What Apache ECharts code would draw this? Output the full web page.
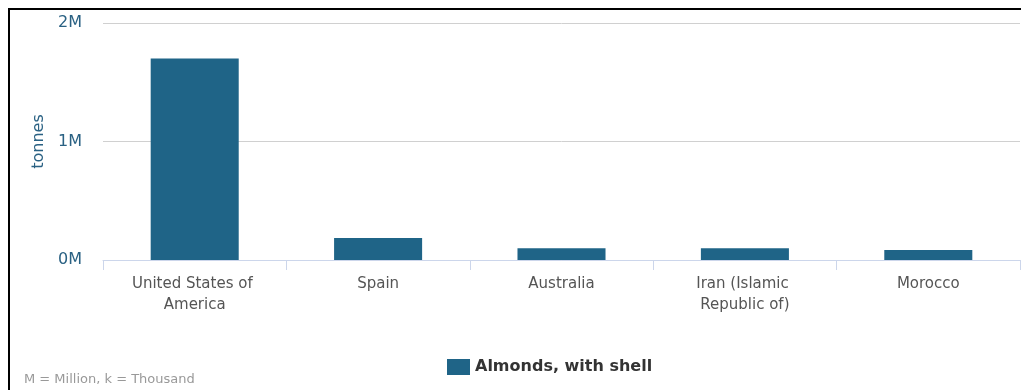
<!DOCTYPE html>
<html>
<head>
<meta charset="utf-8">
<script src="https://cdn.jsdelivr.net/npm/echarts@6/dist/echarts.min.js"></script>
<style>
  html, body { margin: 0; padding: 0; background: #fff; }
  #chart { width: 1021px; height: 390px; }
</style>
</head>
<body>
<div id="chart"></div>
<script>
// Almond production by country (tonnes)
const countries = ['United States of America', 'Spain', 'Australia', 'Iran (Islamic Republic of)', 'Morocco'];
const almondsWithShell = [1700000, 186000, 100000, 100000, 85000];
const seriesName = 'Almonds, with shell';
const yTicks = [0, 1000000, 2000000];

const FONT = '"DejaVu Sans", "Open Sans", sans-serif';
const BAR = '#1f6487';

const chart = echarts.init(document.getElementById('chart'), null, { renderer: 'canvas' });
chart.setOption({
  animation: false,
  textStyle: { fontFamily: FONT },
  grid: { left: 103, right: 1, top: 23, bottom: 130, containLabel: false },
  legend: {
    data: [seriesName],
    left: 442,
    top: 354,
    itemWidth: 23,
    itemHeight: 16,
    itemGap: 8,
    icon: 'rect',
    textStyle: { fontFamily: FONT, fontSize: 16, fontWeight: 'bold', color: '#333' }
  },
  xAxis: {
    type: 'category',
    data: countries,
    axisLine: { lineStyle: { color: '#ccd6eb', width: 1 } },
    axisTick: { show: true, length: 10, lineStyle: { color: '#ccd6eb' }, alignWithLabel: false },
    axisLabel: {
      color: '#555',
      fontSize: 15,
      fontFamily: FONT,
      margin: 14,
      lineHeight: 21,
      width: 150,
      overflow: 'break',
      interval: 0
    }
  },
  yAxis: {
    type: 'value',
    min: yTicks[0],
    max: yTicks[yTicks.length - 1],
    interval: yTicks[1] - yTicks[0],
    name: 'tonnes',
    nameLocation: 'middle',
    nameGap: 55,
    nameRotate: 90,
    nameTextStyle: { color: '#2a6183', fontSize: 16, fontFamily: FONT },
    axisLine: { show: false },
    axisTick: { show: false },
    splitLine: { lineStyle: { color: '#d0d0d0', width: 1 } },
    axisLabel: {
      color: '#2a6183',
      fontSize: 16,
      fontFamily: FONT,
      margin: 21,
      formatter: v => (v / 1000000) + 'M'
    }
  },
  series: [{
    name: seriesName,
    type: 'bar',
    data: almondsWithShell,
    barWidth: '48%',
    itemStyle: { color: BAR }
  }],
  graphic: [
    {
      type: 'rect',
      shape: { x: 9, y: 9, width: 1040, height: 420 },
      style: { fill: 'none', stroke: '#000', lineWidth: 2 },
      silent: true
    },
    {
      type: 'text',
      left: 24,
      top: 373,
      style: { text: 'M = Million, k = Thousand', fill: '#999', fontSize: 13, fontFamily: FONT }
    }
  ]
});
</script>
</body>
</html>
